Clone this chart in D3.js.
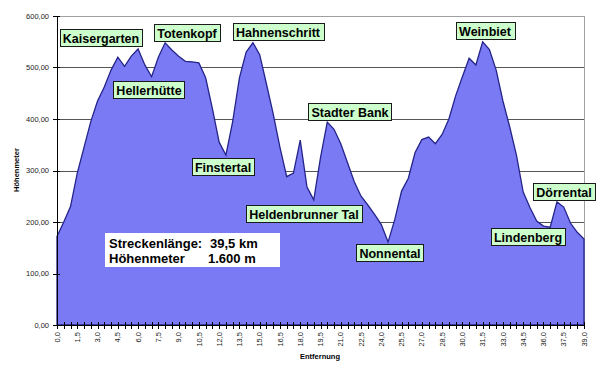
<!DOCTYPE html>
<html>
<head>
<meta charset="UTF-8">
<script src="https://d3js.org/d3.v7.min.js"></script>
<style>
    body { margin: 0; background: #fff; }
    text { font-family: Arial, "Liberation Sans", sans-serif; }
</style>
</head>
<body>
<div id="chart"></div>
<script>
// Entfernung in km (Kategorien, alle 0,5 km)
var km = [0, 0.5, 1, 1.5, 2, 2.5, 3, 3.5, 4, 4.5, 5, 5.5, 6, 6.5, 7, 7.5, 8, 8.5, 9, 9.5,
          10, 10.5, 11, 11.5, 12, 12.5, 13, 13.5, 14, 14.5, 15, 15.5, 16, 16.5, 17, 17.5, 18, 18.5, 19, 19.5,
          20, 20.5, 21, 21.5, 22, 22.5, 23, 23.5, 24, 24.5, 25, 25.5, 26, 26.5, 27, 27.5, 28, 28.5, 29, 29.5,
          30, 30.5, 31, 31.5, 32, 32.5, 33, 33.5, 34, 34.5, 35, 35.5, 36, 36.5, 37, 37.5, 38, 38.5, 39];
// Höhe in m
var hoehe = [172, 200, 230, 295, 345, 395, 435, 462, 495, 520, 502, 522, 536, 505, 482, 520, 548, 534, 522, 512,
             511, 509, 480, 420, 355, 330, 395, 480, 530, 548, 525, 468, 410, 345, 288, 295, 359, 268, 243, 325,
             394, 380, 352, 315, 278, 250, 233, 215, 195, 161, 205, 260, 285, 335, 360, 365, 352, 370, 400, 445,
             482, 518, 505, 550, 535, 495, 435, 385, 330, 258, 228, 202, 192, 190, 239, 229, 198, 180, 167];

var yTicks = [0, 100, 200, 300, 400, 500, 600];
var xLabels = [0, 1.5, 3, 4.5, 6, 7.5, 9, 10.5, 12, 13.5, 15, 16.5, 18, 19.5, 21, 22.5, 24, 25.5, 27, 28.5,
               30, 31.5, 33, 34.5, 36, 37.5, 39];

// Ortsnamen, Mitte des Schildes in Datenkoordinaten (km, m)
var orte = [
    { name: "Kaisergarten", km: 3.26, h: 557 },
    { name: "Hellerhütte", km: 6.81, h: 457 },
    { name: "Totenkopf", km: 9.59, h: 567 },
    { name: "Hahnenschritt", km: 16.36, h: 569 },
    { name: "Finstertal", km: 12.3, h: 306 },
    { name: "Stadter Bank", km: 21.65, h: 414 },
    { name: "Heldenbrunner Tal", km: 18.25, h: 216 },
    { name: "Nonnental", km: 24.65, h: 139 },
    { name: "Weinbiet", km: 31.64, h: 571 },
    { name: "Lindenberg", km: 34.86, h: 171 },
    { name: "Dörrental", km: 37.53, h: 259 }
];

var infoZeilen = [["Streckenlänge:", "39,5 km"], ["Höhenmeter", "1.600 m"]];

var width = 600, height = 373;
var plotLeft = 57, plotRight = 584, plotTop = 16, plotBottom = 325;

var de = d3.formatLocale({ decimal: ",", thousands: ".", grouping: [3], currency: ["", " €"] });

var data = km.map(function(d, i) { return { km: d, h: hoehe[i] }; });

var svg = d3.select("#chart").append("svg")
    .attr("width", width)
    .attr("height", height);

var x = d3.scaleLinear().domain([0, 39]).range([plotLeft, plotRight]);
var y = d3.scaleLinear().domain([0, 600]).range([plotBottom, plotTop]);

// Rahmen der Zeichenfläche
svg.append("rect")
    .attr("x", plotLeft + 0.5).attr("y", plotTop + 0.5)
    .attr("width", plotRight - plotLeft).attr("height", plotBottom - plotTop)
    .attr("fill", "#fff")
    .attr("stroke", "#a0a0a0");

// Gitterlinien
svg.append("g")
    .selectAll("line")
    .data(yTicks.filter(function(d) { return d > 0 && d < 600; }))
    .enter().append("line")
    .attr("x1", plotLeft).attr("x2", plotRight)
    .attr("y1", function(d) { return Math.round(y(d)) + 0.5; })
    .attr("y2", function(d) { return Math.round(y(d)) + 0.5; })
    .attr("stroke", "#555");

// Höhenprofil
var area = d3.area()
    .x(function(d) { return x(d.km); })
    .y0(y(0))
    .y1(function(d) { return y(d.h); });

svg.append("path")
    .datum(data)
    .attr("d", area)
    .attr("fill", "#7a7af5")
    .attr("stroke", "#24248a")
    .attr("stroke-width", 1.3)
    .attr("stroke-linejoin", "miter");

// y-Achse
var yaxis = svg.append("g");
yaxis.append("line")
    .attr("x1", plotLeft + 0.5).attr("x2", plotLeft + 0.5)
    .attr("y1", plotTop).attr("y2", plotBottom)
    .attr("stroke", "#000");
yaxis.selectAll(".tick")
    .data(yTicks)
    .enter().append("line")
    .attr("x1", plotLeft - 4).attr("x2", plotLeft + 3)
    .attr("y1", function(d) { return Math.round(y(d)) + 0.5; })
    .attr("y2", function(d) { return Math.round(y(d)) + 0.5; })
    .attr("stroke", "#000");
yaxis.selectAll("text")
    .data(yTicks)
    .enter().append("text")
    .attr("x", plotLeft - 8)
    .attr("y", function(d) { return y(d); })
    .attr("dy", "0.35em")
    .attr("text-anchor", "end")
    .attr("font-size", "7.5px")
    .attr("fill", "#222")
    .text(function(d) { return de.format(".2f")(d); });

// x-Achse
var xaxis = svg.append("g");
xaxis.append("line")
    .attr("x1", plotLeft).attr("x2", plotRight)
    .attr("y1", plotBottom + 0.5).attr("y2", plotBottom + 0.5)
    .attr("stroke", "#000");
xaxis.selectAll(".tick")
    .data(km)
    .enter().append("line")
    .attr("x1", function(d) { return Math.round(x(d)) + 0.5; })
    .attr("x2", function(d) { return Math.round(x(d)) + 0.5; })
    .attr("y1", plotBottom - 3).attr("y2", plotBottom + 4)
    .attr("stroke", "#000");
xaxis.selectAll("text")
    .data(xLabels)
    .enter().append("text")
    .attr("transform", function(d) { return "translate(" + x(d) + "," + (plotBottom + 7) + ") rotate(-90)"; })
    .attr("dy", "0.35em")
    .attr("text-anchor", "end")
    .attr("font-size", "7.5px")
    .attr("fill", "#222")
    .text(function(d) { return de.format(".1f")(d); });

// Achsentitel
svg.append("text")
    .attr("transform", "translate(19,170) rotate(-90)")
    .attr("text-anchor", "middle")
    .attr("font-size", "7.5px")
    .attr("font-weight", "bold")
    .text("Höhenmeter");

svg.append("text")
    .attr("x", 320).attr("y", 359)
    .attr("text-anchor", "middle")
    .attr("font-size", "7.5px")
    .attr("font-weight", "bold")
    .text("Entfernung");

// Ortsschilder
var schild = svg.append("g").selectAll("g")
    .data(orte)
    .enter().append("g")
    .attr("transform", function(d) { return "translate(" + Math.round(x(d.km)) + "," + Math.round(y(d.h)) + ")"; });

schild.append("text")
    .attr("text-anchor", "middle")
    .attr("dy", "0.36em")
    .attr("font-size", "12.5px")
    .attr("font-weight", "bold")
    .attr("fill", "#000")
    .text(function(d) { return d.name; });

schild.each(function() {
    var g = d3.select(this);
    var bb = g.select("text").node().getBBox();
    g.insert("rect", "text")
        .attr("x", Math.round(bb.x - 3) + 0.5)
        .attr("y", -8.5)
        .attr("width", Math.round(bb.width + 6))
        .attr("height", 17)
        .attr("fill", "#ccffcc")
        .attr("stroke", "#1a1a1a");
});

// Infokasten
var info = svg.append("g");
info.append("rect")
    .attr("x", 105).attr("y", 233)
    .attr("width", 175).attr("height", 34)
    .attr("fill", "#fff");
infoZeilen.forEach(function(z, i) {
    info.append("text")
        .attr("x", 109).attr("y", 248 + i * 15)
        .attr("font-size", "13px")
        .attr("font-weight", "bold")
        .text(z[0]);
    info.append("text")
        .attr("x", i === 0 ? 210 : 208).attr("y", 248 + i * 15)
        .attr("font-size", "13px")
        .attr("font-weight", "bold")
        .text(z[1]);
});
</script>
</body>
</html>
